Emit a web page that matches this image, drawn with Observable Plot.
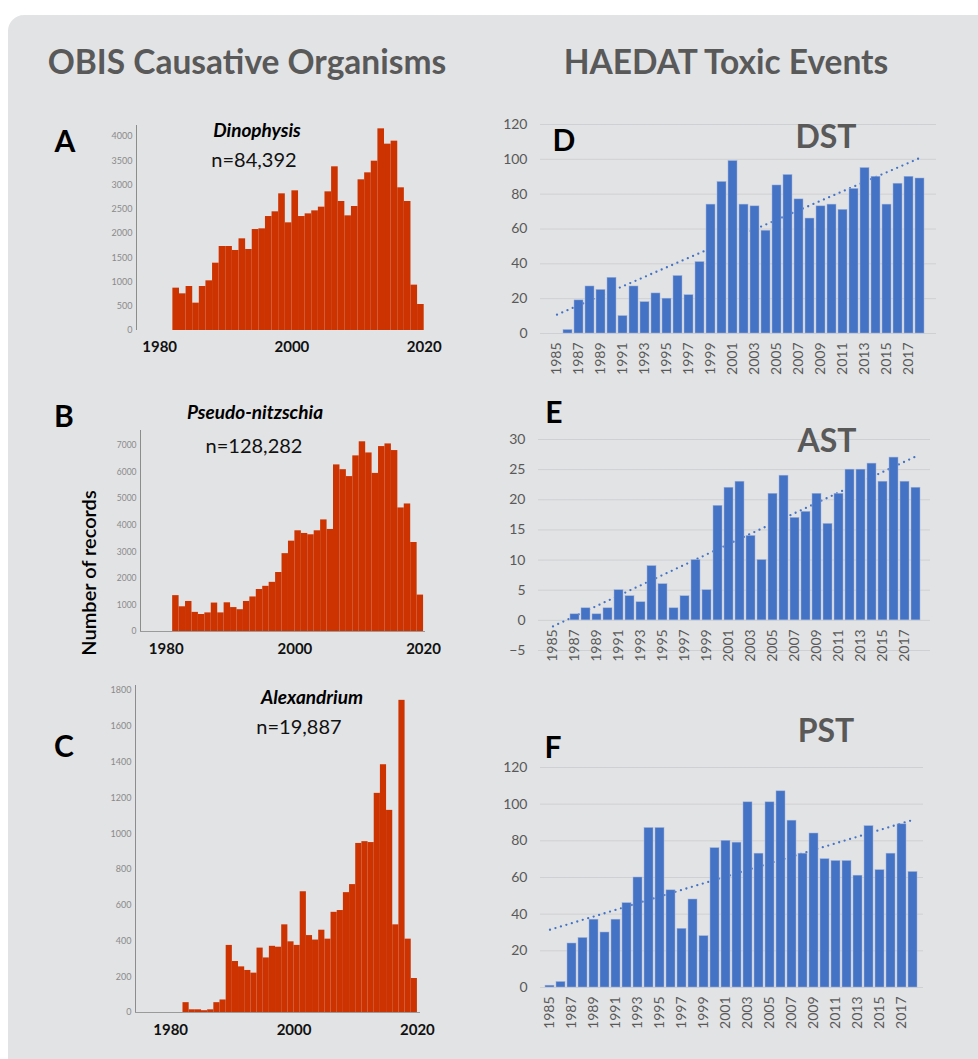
<!DOCTYPE html>
<html><head><meta charset="utf-8">
<script src="https://cdn.jsdelivr.net/npm/d3@7"></script>
<script src="https://cdn.jsdelivr.net/npm/@observablehq/plot@0.6"></script>
<style>
html,body{margin:0;padding:0;background:#fff;overflow:hidden;}
#page{position:relative;width:978px;height:1059px;overflow:hidden;font-family:Lato,"Open Sans",sans-serif;}
#panel{position:absolute;left:8px;top:15px;width:1000px;height:1080px;background:#e2e3e5;border-radius:16px;}
.abs{position:absolute;white-space:nowrap;line-height:1;transform:translate(-50%,-50%);}
.head{font-weight:bold;font-size:33.5px;color:#595959;}
.letter{font-weight:bold;font-size:30px;color:#000;}
.tox{font-weight:bold;font-size:32px;color:#595959;}
.sp{font-weight:bold;font-style:italic;font-size:19px;color:#000;}
.n{font-size:20px;color:#111;}
.ylab{font-size:20px;font-weight:600;color:#000;transform:translate(-50%,-50%) rotate(-90deg);}
.chart{position:absolute;}
.obis g[aria-label="x-axis tick label"] text{font-weight:bold;}
</style></head>
<body>
<div id="page">
  <div id="panel"></div>
</div>
<script>
// ---------- OBIS causative organisms (records per year) ----------
const dinophysisStartYear = 1982;
const dinophysisCounts = [873,756,907,564,907,1024,1388,1732,1732,1650,1890,1670,2082,2096,2350,2447,2818,2220,2880,2350,2405,2467,2543,2859,3375,2660,2364,2557,3107,3251,3491,4158,3842,3904,2942,2660,935,536];
const pseudoNitzschiaStartYear = 1981;
const pseudoNitzschiaCounts = [1350,930,1130,720,640,700,1070,700,1080,900,820,1130,1300,1580,1700,1850,2220,2930,3400,3790,3690,3640,3790,4200,3840,6270,6090,5830,6610,7140,6720,5950,6960,7060,6810,4650,4800,3350,1370];
const alexandriumStartYear = 1982;
const alexandriumCounts = [55,15,15,10,15,55,70,375,285,255,235,220,360,305,370,365,490,395,375,675,430,405,460,410,560,570,670,715,945,955,950,1225,1385,1130,490,1745,410,190];
const obisXTicks = [1980, 2000, 2020];
const dinophysisYTicks = [0,500,1000,1500,2000,2500,3000,3500,4000];
const pseudoNitzschiaYTicks = [0,1000,2000,3000,4000,5000,6000,7000];
const alexandriumYTicks = [0,200,400,600,800,1000,1200,1400,1600,1800];

// ---------- HAEDAT toxic events ----------
const haedatYears = ["1985","1986","1987","1988","1989","1990","1991","1992","1993","1994","1995","1996","1997","1998","1999","2000","2001","2002","2003","2004","2005","2006","2007","2008","2009","2010","2011","2012","2013","2014","2015","2016","2017","2018"];
const haedatTickLabels = ["1985","1987","1989","1991","1993","1995","1997","1999","2001","2003","2005","2007","2009","2011","2013","2015","2017"];
const dstEvents = [0,2,19,27,25,32,10,27,18,23,20,33,22,41,74,87,99,74,73,59,85,91,77,66,73,74,71,83,95,90,74,86,90,89];
const astEvents = [0,0,1,2,1,2,5,4,3,9,6,2,4,10,5,19,22,23,14,10,21,24,17,18,21,16,21,25,25,26,23,27,23,22];
const pstEvents = [1,3,24,27,37,30,37,46,60,87,87,53,32,48,28,76,80,79,101,73,101,107,91,73,84,70,69,69,61,88,64,73,89,63];
const trendYears = ["1985","2018"];
const dstTrend = [10.8, 100.8];
const astTrend = [-1.0, 27.2];
const pstTrend = [31.5, 91.4];
const dstYTicks = [0,20,40,60,80,100,120];
const astYTicks = [-5,0,5,10,15,20,25,30];
const pstYTicks = [0,20,40,60,80,100,120];

const page = document.getElementById("page");
function addText(cls, text, x, y) {
  const d = document.createElement("div");
  d.className = "abs " + cls;
  d.textContent = text;
  d.style.left = x + "px";
  d.style.top = y + "px";
  page.appendChild(d);
  return d;
}
function place(svg, left, top, cls) {
  const wrap = document.createElement("div");
  wrap.className = "chart " + (cls || "");
  wrap.style.left = left + "px";
  wrap.style.top = top + "px";
  wrap.appendChild(svg);
  page.appendChild(wrap);
}

const RED = "#cc3300";
const BLUE = "#4472c4";
const baseStyle = {background: "transparent", overflow: "visible", fontFamily: "Lato, 'Open Sans', sans-serif"};

function obisChart(cfg) {
  const data = cfg.counts.map((c, i) => ({year: cfg.start + i, count: c}));
  const marks = [
    Plot.rectY(data, {x1: "year", x2: d => d.year + 1, y: "count", fill: RED, inset: 0}),
    Plot.ruleX([cfg.xDomain[0]], {stroke: "#8c8c8c", strokeWidth: 1}),
    Plot.axisY({ticks: cfg.yTicks, tickSize: 0, tickPadding: 4, fontSize: cfg.yFont, color: "#8a8a8a", tickFormat: "d", label: null}),
    Plot.axisX({ticks: obisXTicks, tickSize: 0, tickPadding: cfg.xPad, fontSize: 15, fontWeight: "bold", color: "#111", tickFormat: "d", label: null})
  ];
  if (cfg.baseline) marks.push(Plot.ruleY([0], {stroke: "#9a9a9a", strokeWidth: 1}));
  return Plot.plot({
    width: cfg.width, height: cfg.height,
    marginLeft: cfg.mL, marginRight: cfg.mR, marginTop: cfg.mT, marginBottom: cfg.mB,
    style: baseStyle,
    x: {domain: cfg.xDomain, label: null},
    y: {domain: cfg.yDomain, label: null},
    marks
  });
}

function haedatChart(cfg) {
  const data = haedatYears.map((y, i) => ({year: y, v: cfg.values[i]}));
  const trend = trendYears.map((y, i) => ({year: y, v: cfg.trend[i]}));
  return Plot.plot({
    width: cfg.width, height: cfg.height,
    marginLeft: cfg.mL, marginRight: cfg.mR, marginTop: cfg.mT, marginBottom: cfg.mB,
    style: baseStyle,
    x: {type: "band", domain: haedatYears, padding: 0.14, axis: null, label: null},
    y: {domain: cfg.yDomain, label: null},
    marks: [
      Plot.gridY({ticks: cfg.yTicks, stroke: "#cfd0d3", strokeOpacity: 1, strokeWidth: 1}),
      Plot.axisY({ticks: cfg.yTicks, tickSize: 0, tickPadding: 13, fontSize: 14, color: "#595959", tickFormat: "d", label: null}),
      Plot.line(trend, {x: "year", y: "v", stroke: BLUE, strokeWidth: 2.3, strokeDasharray: "0 5.7", strokeLinecap: "round"}),
      Plot.barY(data, {x: "year", y: "v", fill: BLUE, stroke: "#9fb3dc", strokeWidth: 0.5}),
      Plot.text(haedatTickLabels, {x: d => d, y: 0, rotate: -90, textAnchor: "end", dy: 9, fontSize: 14, fill: "#595959"})
    ]
  });
}

// OBIS panels
place(obisChart({counts: dinophysisCounts, start: dinophysisStartYear, width: 340, height: 250,
  mL: 36, mR: 13, mT: 5, mB: 40, xDomain: [1976.5, 2020.5], yDomain: [0, 4227],
  yTicks: dinophysisYTicks, yFont: 9, xPad: 11, baseline: false}), 100, 120, "obis");
place(obisChart({counts: pseudoNitzschiaCounts, start: pseudoNitzschiaStartYear, width: 340, height: 250,
  mL: 40, mR: 15, mT: 10, mB: 39, xDomain: [1976, 2020.3], yDomain: [0, 7565],
  yTicks: pseudoNitzschiaYTicks, yFont: 8.5, xPad: 12, baseline: true}), 100, 420, "obis");
place(obisChart({counts: alexandriumCounts, start: alexandriumStartYear, width: 340, height: 360,
  mL: 35, mR: 20, mT: 5, mB: 28, xDomain: [1974.3, 2020.5], yDomain: [0, 1828],
  yTicks: alexandriumYTicks, yFont: 9, xPad: 12, baseline: true}), 100, 680, "obis");

// HAEDAT panels
place(haedatChart({values: dstEvents, trend: dstTrend, width: 460, height: 270,
  mL: 50, mR: 14, mT: 14, mB: 47, yDomain: [0, 120], yTicks: dstYTicks}), 490, 110);
place(haedatChart({values: astEvents, trend: astTrend, width: 460, height: 260,
  mL: 48, mR: 20, mT: 19, mB: 30, yDomain: [-5, 30], yTicks: astYTicks}), 490, 420);
place(haedatChart({values: pstEvents, trend: pstTrend, width: 460, height: 300,
  mL: 50, mR: 27, mT: 27, mB: 53, yDomain: [0, 120], yTicks: pstYTicks}), 490, 740);

// Texts
addText("head", "OBIS Causative Organisms", 247, 62);
addText("head", "HAEDAT Toxic Events", 726, 62);
addText("letter", "A", 65, 140);
addText("letter", "B", 64, 415);
addText("letter", "C", 64, 745);
addText("letter", "D", 564, 139);
addText("letter", "E", 554, 411);
addText("letter", "F", 553, 746);
addText("tox", "DST", 826, 136);
addText("tox", "AST", 827, 440);
addText("tox", "PST", 826, 730);
addText("sp", "Dinophysis", 257, 129);
addText("n", "n=84,392", 254, 159);
addText("sp", "Pseudo-nitzschia", 255, 411);
addText("n", "n=128,282", 254, 445);
addText("sp", "Alexandrium", 312, 696);
addText("n", "n=19,887", 299, 726);
addText("ylab", "Number of records", 88, 573);
</script>
</body></html>
